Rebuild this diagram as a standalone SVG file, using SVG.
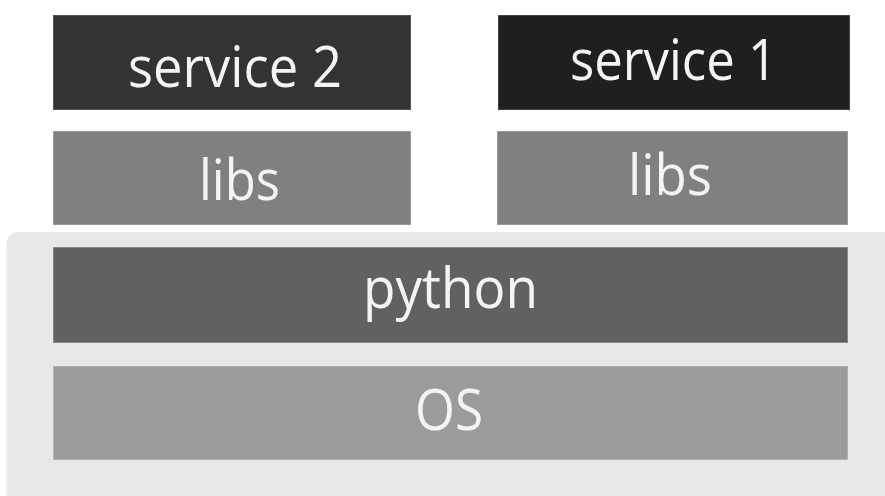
<svg xmlns="http://www.w3.org/2000/svg" width="885" height="496" viewBox="0 0 885 496">
  <style>
    .layer { stroke-width: 1; }
    .label { font-family: "Open Sans", "Noto Sans", "DejaVu Sans", sans-serif; font-size: 56px; fill: #f4f4f4; text-anchor: middle; }
  </style>
  <rect width="885" height="496" fill="#ffffff"/>

  <!-- shared runtime platform -->
  <g id="platform">
    <rect x="6.5" y="232" width="900" height="300" rx="12" ry="12" fill="#e8e8e8"/>
  </g>

  <g id="service2">
    <rect class="layer" x="53.5" y="15.5" width="357" height="94" fill="#333333" stroke="#555555"/>
    <text class="label" x="235" y="87" textLength="214" lengthAdjust="spacingAndGlyphs">service 2</text>
  </g>

  <g id="service1">
    <rect class="layer" x="498.5" y="15.5" width="351" height="94" fill="#1f1f1f" stroke="#444444"/>
    <text class="label" x="673.5" y="80" textLength="207" lengthAdjust="spacingAndGlyphs">service 1</text>
  </g>

  <g id="libs2">
    <rect class="layer" x="53.5" y="131.5" width="357" height="93" fill="#808080" stroke="#9a9a9a"/>
    <text class="label" x="239.5" y="200" textLength="81" lengthAdjust="spacingAndGlyphs">libs</text>
  </g>

  <g id="libs1">
    <rect class="layer" x="497.5" y="131.5" width="350" height="93" fill="#808080" stroke="#9a9a9a"/>
    <text class="label" x="670" y="195" textLength="84" lengthAdjust="spacingAndGlyphs">libs</text>
  </g>

  <g id="python">
    <rect class="layer" x="53.5" y="247.5" width="794" height="95" fill="#616161" stroke="#888888"/>
    <text class="label" x="450.5" y="308" textLength="175" lengthAdjust="spacingAndGlyphs">python</text>
  </g>

  <g id="os">
    <rect class="layer" x="53.5" y="366.5" width="794" height="93" fill="#9b9b9b" stroke="#b0b0b0"/>
    <text class="label" x="449" y="430" textLength="68" lengthAdjust="spacingAndGlyphs">OS</text>
  </g>

  <g id="connectors"/>
</svg>
